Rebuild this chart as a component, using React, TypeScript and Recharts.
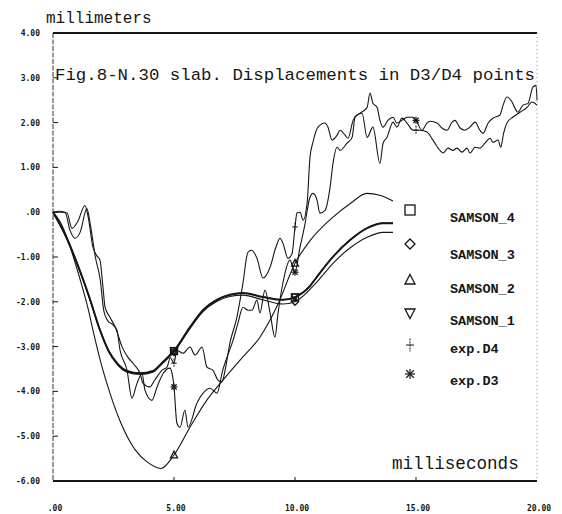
import React from 'react';
import { LineChart, Line, XAxis, YAxis, ReferenceLine, Customized } from 'recharts';

type Pt = [number, number];

const X_TICKS = [0, 5, 10, 15, 20];
const Y_TICKS = [-6, -5, -4, -3, -2, -1, 0, 1, 2, 3, 4];
const TITLE = 'Fig.8-N.30 slab. Displacements in D3/D4 points';
const Y_LABEL = 'millimeters';
const X_LABEL = 'milliseconds';
const SAMSON_MARK_T = [5, 10];
const EXP_MARK_T = [5, 10, 15];

const SAMSON_4: Pt[] = [
  [0, 0], [0.5, -0.5], [1.0, -1.15], [1.5, -1.9], [1.94, -2.63], [2.3, -3.1], [2.64, -3.37],
  [3.06, -3.55], [3.6, -3.6], [4.13, -3.55], [4.5, -3.37], [5, -3.1], [5.66, -2.57], [6.2, -2.19],
  [6.78, -1.96], [7.31, -1.85], [7.85, -1.81], [8.68, -1.9], [9.5, -1.96], [10, -1.9],
  [10.62, -1.65], [10.9, -1.45], [11.57, -1.0], [12.27, -0.63], [12.98, -0.36], [13.64, -0.25], [14.05, -0.25],
];

const SAMSON_3: Pt[] = [
  [0, 0], [0.5, -0.52], [1.0, -1.17], [1.5, -1.92], [1.94, -2.65], [2.3, -3.12], [2.64, -3.39],
  [3.06, -3.57], [3.6, -3.62], [4.13, -3.57], [4.5, -3.39], [5, -3.12], [5.66, -2.6], [6.2, -2.22],
  [6.78, -1.99], [7.31, -1.88], [7.85, -1.85], [8.68, -1.96], [9.5, -2.05], [10, -2.0],
  [10.9, -1.56], [11.57, -1.14], [12.27, -0.8], [12.98, -0.56], [13.64, -0.45], [14.05, -0.45],
];

const SAMSON_2: Pt[] = [
  [0, 0], [0.3, -0.22], [0.6, -0.6], [0.9, -1.1], [1.2, -1.65], [1.45, -2.15], [1.65, -2.63],
  [2.0, -3.4], [2.36, -4.05], [2.8, -4.7], [3.39, -5.3], [3.9, -5.58], [4.46, -5.72], [5, -5.42],
  [5.66, -4.8], [6.35, -4.2], [7.02, -3.75], [7.73, -3.3], [8.55, -2.79], [9.3, -2.05], [10, -1.14],
  [10.6, -0.65], [11.57, -0.11], [12.3, 0.2], [12.97, 0.42], [13.5, 0.38], [14.05, 0.25],
];

const SAMSON_1: Pt[] = [
  [0, 0], [0.5, -0.49], [1.0, -1.14], [1.5, -1.89], [1.94, -2.62], [2.3, -3.09], [2.64, -3.36],
  [3.06, -3.54], [3.6, -3.59], [4.13, -3.54], [4.5, -3.36], [5, -3.09], [5.66, -2.56], [6.2, -2.18],
  [6.78, -1.95], [7.31, -1.84], [7.85, -1.8], [8.68, -1.89], [9.5, -1.95], [10, -1.89],
  [10.62, -1.64], [10.9, -1.44], [11.57, -0.99], [12.27, -0.62], [12.98, -0.35], [13.64, -0.24], [14.05, -0.24],
];

const EXP_D4: Pt[] = [
  [0, 0], [0.33, 0], [0.58, -0.02], [0.78, -0.36], [1.03, -0.2], [1.32, 0.15], [1.45, -0.1], [1.65, -0.78],
  [1.82, -0.98], [1.94, -1.07], [2.07, -1.7], [2.15, -2.12], [2.36, -2.35], [2.6, -2.6], [2.85, -3.0],
  [3.1, -3.24], [3.35, -3.4], [3.6, -3.6], [3.72, -3.82], [4.0, -3.9], [4.2, -3.75], [4.5, -3.53],
  [4.71, -3.46], [4.85, -3.25], [5, -3.37], [5.12, -3.08], [5.37, -3.15], [5.66, -3.01], [5.87, -3.19],
  [6.16, -3.01], [6.36, -3.46], [6.61, -3.53], [6.82, -3.75], [6.98, -3.79], [7.11, -3.53], [7.31, -2.92],
  [7.6, -2.34], [7.85, -1.58], [8.05, -0.9], [8.2, -0.85], [8.43, -1.03], [8.68, -1.47], [8.97, -1.23],
  [9.2, -0.8], [9.38, -0.58], [9.5, -0.69], [9.71, -1.03], [9.88, -0.92], [10, -0.33], [10.08, -0.02],
  [10.21, 0.0], [10.33, -0.18], [10.5, 0.2], [10.62, 1.23], [10.74, 1.56], [10.95, 1.9], [11.24, 1.99],
  [11.36, 1.9], [11.53, 1.61], [11.74, 1.72], [11.86, 1.83], [12.07, 1.72], [12.19, 1.65], [12.4, 2.05],
  [12.56, 2.17], [12.77, 2.21], [12.98, 1.67], [13.22, 1.9], [13.51, 1.09], [13.64, 1.54], [13.8, 1.67],
  [14.05, 2.01], [14.21, 1.9], [14.42, 2.1], [14.63, 1.99], [14.88, 1.83], [15, 1.83], [15.17, 1.83],
  [15.45, 1.79], [15.7, 1.61], [15.99, 1.38], [16.12, 1.32], [16.32, 1.43], [16.53, 1.38], [16.69, 1.43],
  [16.9, 1.34], [17.11, 1.43], [17.23, 1.32], [17.44, 1.45], [17.64, 1.43], [17.85, 1.54], [18.06, 1.65],
  [18.18, 1.56], [18.39, 1.61], [18.5, 1.45], [18.62, 1.76], [18.76, 1.99], [19.0, 2.12], [19.3, 2.23],
  [19.59, 2.34], [19.79, 2.46], [20, 2.39],
];

const EXP_D3: Pt[] = [
  [0, 0], [0.25, 0.02], [0.5, 0.0], [0.7, -0.4], [0.91, -0.58], [1.12, -0.45], [1.4, 0.08], [1.55, -0.3],
  [1.75, -1.0], [1.95, -1.5], [2.1, -2.2], [2.3, -2.45], [2.45, -2.5], [2.64, -2.63], [2.77, -3.08],
  [3.06, -3.53], [3.26, -4.15], [3.47, -3.82], [3.68, -3.6], [3.8, -3.97], [4.09, -4.2], [4.3, -3.9],
  [4.55, -3.6], [4.83, -3.48], [4.92, -3.6], [5, -3.9], [5.12, -4.71], [5.25, -4.8], [5.45, -4.42],
  [5.58, -4.8], [5.95, -4.26], [6.2, -4.04], [6.49, -3.93], [6.78, -4.04], [6.9, -3.82], [6.98, -3.6],
  [7.19, -3.24], [7.44, -2.86], [7.64, -2.48], [7.85, -2.12], [8.06, -2.19], [8.22, -2.19], [8.43, -1.96],
  [8.55, -2.25], [8.76, -1.74], [8.97, -2.25], [9.17, -2.79], [9.3, -2.25], [9.5, -1.58], [9.79, -1.07],
  [10, -1.34], [10.2, -0.8], [10.4, -0.3], [10.6, 0.3], [10.74, 0.42], [10.91, 0.27], [11.03, -0.02],
  [11.24, 0.04], [11.45, 0.56], [11.57, 1.09], [11.74, 1.45], [11.86, 1.38], [12.15, 1.54], [12.36, 1.67],
  [12.48, 2.12], [12.69, 2.21], [12.98, 2.34], [13.1, 2.66], [13.22, 2.43], [13.39, 2.34], [13.51, 2.05],
  [13.64, 1.9], [13.84, 2.05], [14.05, 2.12], [14.21, 1.99], [14.42, 2.05], [14.63, 2.12], [14.88, 2.12],
  [15, 2.05], [15.25, 1.83], [15.45, 1.99], [15.58, 2.03], [15.87, 1.99], [16.07, 1.88], [16.28, 1.83],
  [16.49, 2.01], [16.61, 2.05], [16.82, 1.88], [17.02, 1.83], [17.23, 1.9], [17.44, 2.01], [17.64, 1.83],
  [17.77, 1.76], [17.98, 1.99], [18.18, 2.1], [18.47, 2.17], [18.6, 2.39], [18.76, 2.57], [18.97, 2.46],
  [19.09, 2.32], [19.21, 2.23], [19.42, 2.39], [19.63, 2.43], [19.83, 2.79], [19.96, 2.83], [20, 2.5],
];

type Kind = 'square' | 'diamond' | 'triUp' | 'triDown' | 'plus' | 'star';

const SERIES: { name: string; data: Pt[]; kind: Kind; width: number; marks: number[] }[] = [
  { name: 'SAMSON_4', data: SAMSON_4, kind: 'square', width: 1.6, marks: SAMSON_MARK_T },
  { name: 'SAMSON_3', data: SAMSON_3, kind: 'diamond', width: 1.1, marks: SAMSON_MARK_T },
  { name: 'SAMSON_2', data: SAMSON_2, kind: 'triUp', width: 1.1, marks: SAMSON_MARK_T },
  { name: 'SAMSON_1', data: SAMSON_1, kind: 'triDown', width: 1.6, marks: SAMSON_MARK_T },
  { name: 'exp.D4', data: EXP_D4, kind: 'plus', width: 1.1, marks: EXP_MARK_T },
  { name: 'exp.D3', data: EXP_D3, kind: 'star', width: 1.1, marks: EXP_MARK_T },
];

const INK = '#161616';
const MONO = '"Liberation Mono", "DejaVu Sans Mono", monospace';
const TICKFONT = '"DejaVu Sans Mono", monospace';

const fmt = (v: number) => {
  const s = Math.abs(v).toFixed(2);
  const body = s.startsWith('0') ? s.slice(1) : s;
  return (v < 0 ? '-' : '') + body;
};

const rows = (d: Pt[]) => d.map(([t, v]) => ({ t, v }));

function Marker({ kind, cx, cy, s }: { kind: Kind; cx: number; cy: number; s: number }) {
  const h = s / 2;
  const common = { fill: 'none', stroke: INK, strokeWidth: 1.3 };
  switch (kind) {
    case 'square':
      return <rect x={cx - h} y={cy - h} width={s} height={s} {...common} />;
    case 'diamond':
      return <path d={`M${cx},${cy - h}L${cx + h},${cy}L${cx},${cy + h}L${cx - h},${cy}Z`} {...common} />;
    case 'triUp':
      return <path d={`M${cx},${cy - h * 1.1}L${cx + h},${cy + h * 0.8}L${cx - h},${cy + h * 0.8}Z`} {...common} />;
    case 'triDown':
      return <path d={`M${cx},${cy + h * 1.1}L${cx + h},${cy - h * 0.8}L${cx - h},${cy - h * 0.8}Z`} {...common} />;
    case 'plus':
      return (
        <g stroke={INK} strokeWidth={1}>
          <line x1={cx} y1={cy - h * 1.3} x2={cx} y2={cy + h * 1.3} strokeDasharray="2 1" />
          <line x1={cx - h * 0.8} y1={cy} x2={cx + h * 0.8} y2={cy} />
        </g>
      );
    case 'star':
    default: {
      const a = h * 0.75;
      return (
        <g stroke={INK} strokeWidth={1.2}>
          <line x1={cx - h} y1={cy} x2={cx + h} y2={cy} />
          <line x1={cx} y1={cy - h} x2={cx} y2={cy + h} />
          <line x1={cx - a} y1={cy - a} x2={cx + a} y2={cy + a} />
          <line x1={cx - a} y1={cy + a} x2={cx + a} y2={cy - a} />
        </g>
      );
    }
  }
}

const YTick = (p: any) => (
  <g>
    <text x={p.x - 13} y={p.y + 3} textAnchor="end" fontFamily={TICKFONT} fontWeight="bold" fontSize={8} fill={INK}>
      {fmt(p.payload.value)}
    </text>
    <line x1={p.x} y1={p.y} x2={p.x + 5} y2={p.y} stroke={INK} strokeWidth={1} />
  </g>
);

const RTick = (p: any) => (
  <line x1={p.x - 5} y1={p.y} x2={p.x} y2={p.y} stroke={INK} strokeWidth={1} />
);

const XTick = (p: any) => (
  <g>
    <text x={p.x + 2} y={p.y + 30} textAnchor="middle" fontFamily={TICKFONT} fontWeight="bold" fontSize={8} fill={INK}>
      {fmt(p.payload.value)}
    </text>
    {p.payload.value > 0 && p.payload.value < 20 ? (
      <line x1={p.x} y1={p.y} x2={p.x} y2={p.y - 4} stroke={INK} strokeWidth={1} />
    ) : null}
  </g>
);

const LEGEND_MARK_Y = [202, 236, 272, 305, 337, 366];
const LEGEND_TEXT_Y = [214, 251, 285, 317, 345, 377];

const Overlay = () => (
  <g>
    <text x={38} y={14.5} fontFamily={MONO} fontSize={16} fill={INK}>{Y_LABEL}</text>
    <text x={47} y={72} fontFamily={MONO} fontSize={17.4} fill={INK}>{TITLE}</text>
    <text x={384} y={461} fontFamily={MONO} fontSize={17.6} fill={INK}>{X_LABEL}</text>
    {SERIES.map((s, i) => (
      <g key={s.name}>
        <Marker kind={s.kind} cx={402} cy={LEGEND_MARK_Y[i]} s={10} />
        <text x={442} y={LEGEND_TEXT_Y[i]} fontFamily={MONO} fontWeight="bold" fontSize={13.5} fill={INK}>
          {s.name}
        </text>
      </g>
    ))}
  </g>
);

export default function App() {
  return (
    <div style={{ width: 554, height: 506, background: '#fff' }}>
      <LineChart width={554} height={506} margin={{ top: 25, right: 0, bottom: 0, left: 0 }}>
        <XAxis
          type="number"
          dataKey="t"
          domain={[0, 20]}
          ticks={X_TICKS}
          interval={0}
          height={33}
          tickSize={0}
          tickMargin={0}
          tickLine={false}
          tick={XTick}
          axisLine={{ stroke: INK, strokeWidth: 1.8 }}
        />
        <YAxis
          yAxisId="l"
          type="number"
          domain={[-6, 4]}
          ticks={Y_TICKS}
          interval={0}
          width={45}
          tickSize={0}
          tickMargin={0}
          tickLine={false}
          tick={YTick}
          axisLine={{ stroke: '#333', strokeWidth: 1, strokeDasharray: '5 1.5' }}
        />
        <YAxis
          yAxisId="r"
          orientation="right"
          type="number"
          domain={[-6, 4]}
          ticks={Y_TICKS}
          interval={0}
          width={25}
          tickSize={0}
          tickMargin={0}
          tickLine={false}
          tick={RTick}
          axisLine={{ stroke: '#888', strokeWidth: 1, strokeDasharray: '1 3' }}
        />
        <ReferenceLine yAxisId="l" y={4} stroke={INK} strokeWidth={1.8} />
        {SERIES.map((s) => (
          <Line
            key={s.name}
            yAxisId="l"
            data={rows(s.data)}
            dataKey="v"
            name={s.name}
            type="monotone"
            stroke={INK}
            strokeWidth={s.width}
            isAnimationActive={false}
            activeDot={false}
            dot={(p: any) =>
              s.marks.includes(p.payload.t) ? (
                <g key={`${s.name}-${p.index}`}>
                  <Marker kind={s.kind} cx={p.cx} cy={p.cy} s={7} />
                </g>
              ) : (
                <g key={`${s.name}-${p.index}`} />
              )
            }
          />
        ))}
        <Customized component={Overlay} />
      </LineChart>
    </div>
  );
}
